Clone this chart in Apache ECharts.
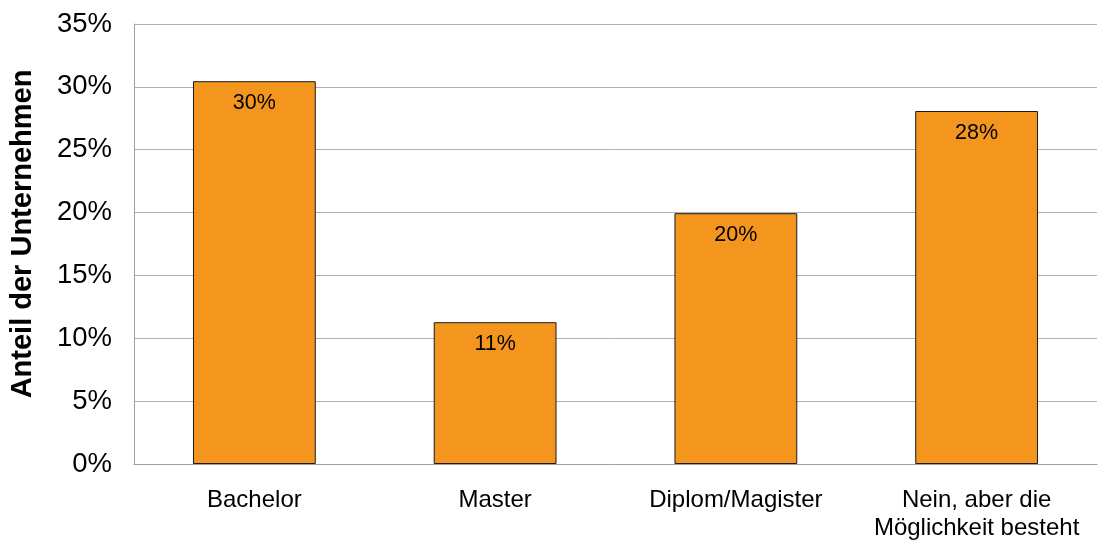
<!DOCTYPE html>
<html><head><meta charset="utf-8">
<script src="https://cdn.jsdelivr.net/npm/echarts@6/dist/echarts.min.js"></script>
<style>html,body{margin:0;padding:0;background:#fff}#c{width:1098px;height:543px}</style>
</head><body><div id="c"></div>
<script>
const categories = ['Bachelor', 'Master', 'Diplom/Magister', 'Nein, aber die\nMöglichkeit besteht'];
const values = [30.45, 11.28, 19.95, 28.08];
const labels = ['30%', '11%', '20%', '28%'];
const yTicks = [0, 5, 10, 15, 20, 25, 30, 35];

const chart = echarts.init(document.getElementById('c'), null, {renderer: 'canvas'});
chart.setOption({
  animation: false,
  grid: {left: 133, right: 1, top: 24, bottom: 79, containLabel: false},
  xAxis: {
    type: 'category', data: categories,
    axisLine: {show: true, lineStyle: {color: '#a0a0a0', width: 1}},
    axisTick: {show: false},
    axisLabel: {color: '#000', fontFamily: 'Liberation Sans, Arial', fontSize: 24, lineHeight: 28, margin: 22, interval: 0}
  },
  yAxis: {
    type: 'value', min: 0, max: 35, interval: 5,
    name: 'Anteil der Unternehmen', nameLocation: 'middle', nameGap: 97,
    nameTextStyle: {color: '#000', fontFamily: 'Liberation Sans, Arial', fontSize: 29, fontWeight: 'bold', padding: [0, 0, 0, 20]},
    axisLine: {show: true, lineStyle: {color: '#a0a0a0', width: 1}},
    axisTick: {show: false},
    splitLine: {show: true, lineStyle: {color: '#b0b0b0', width: 1}},
    axisLabel: {color: '#000', fontFamily: 'Liberation Sans, Arial', fontSize: 27.5, margin: 22,
      formatter: v => yTicks.includes(v) ? v + '%' : ''}
  },
  series: [{
    type: 'bar', data: values, barWidth: '51%',
    itemStyle: {color: '#F4961E', borderColor: '#1a1a1a', borderWidth: 1},
    label: {show: true, position: 'insideTop', distance: 11, color: '#000',
      fontFamily: 'Liberation Sans, Arial', fontSize: 21.5,
      formatter: p => labels[p.dataIndex]}
  }]
});
</script></body></html>
